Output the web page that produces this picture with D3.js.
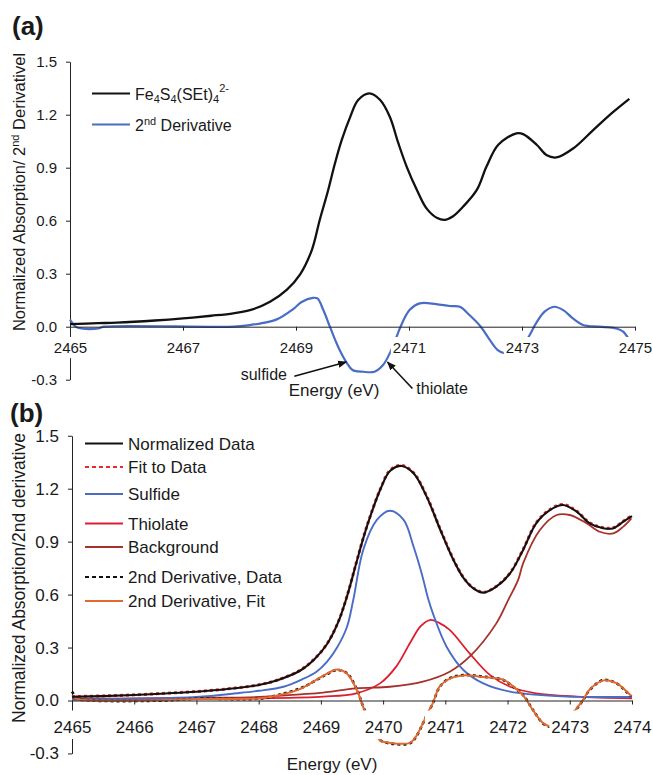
<!DOCTYPE html>
<html>
<head>
<meta charset="utf-8">
<script src="https://cdn.jsdelivr.net/npm/d3@7"></script>
<style>
  body { margin: 0; background: #fff; }
  svg text { font-family: "Liberation Sans", Arial, sans-serif; fill: #1a1a1a; }
</style>
</head>
<body>
<svg width="653" height="775"></svg>
<script>
// ---- data: [energy (eV), value] ----
const ticksXA = [2465, 2467, 2469, 2471, 2473, 2475];
const ticksXB = [2465, 2466, 2467, 2468, 2469, 2470, 2471, 2472, 2473, 2474];
const ticksY = [-0.3, 0, 0.3, 0.6, 0.9, 1.2, 1.5];

// panel (a)
const absorptionA = [
  [2465.0, 0.015], [2465.5, 0.02], [2465.83, 0.023], [2466.5, 0.035], [2467.0, 0.047],
  [2467.5, 0.062], [2467.89, 0.076], [2468.2, 0.095], [2468.54, 0.141], [2468.84, 0.21],
  [2469.07, 0.295], [2469.28, 0.434], [2469.42, 0.604], [2469.57, 0.774], [2469.69, 0.925],
  [2469.81, 1.057], [2469.96, 1.188], [2470.1, 1.283], [2470.3, 1.321], [2470.49, 1.283],
  [2470.66, 1.188], [2470.81, 1.04], [2470.96, 0.905], [2471.14, 0.774], [2471.31, 0.67],
  [2471.5, 0.615], [2471.64, 0.605], [2471.78, 0.625], [2471.96, 0.68], [2472.2, 0.774],
  [2472.37, 0.905], [2472.58, 1.03], [2472.9, 1.094], [2473.02, 1.09], [2473.26, 1.03],
  [2473.44, 0.97], [2473.61, 0.958], [2473.91, 1.01], [2474.26, 1.113], [2474.62, 1.217],
  [2474.9, 1.29]
];
const derivativeA = [
  [2465.0, 0.04], [2465.1, 0.0], [2465.2, -0.01], [2465.5, -0.01], [2465.6, 0.0],
  [2467.9, 0.0], [2468.2, 0.01], [2468.4, 0.02], [2468.65, 0.04], [2468.95, 0.1],
  [2469.1, 0.14], [2469.3, 0.163], [2469.38, 0.16], [2469.48, 0.097], [2469.6, 0.0],
  [2469.7, -0.08], [2469.77, -0.13], [2469.89, -0.2], [2470.0, -0.245], [2470.19, -0.255],
  [2470.39, -0.255], [2470.54, -0.217], [2470.66, -0.15], [2470.78, -0.057], [2470.85, 0.0],
  [2471.01, 0.094], [2471.19, 0.132], [2471.48, 0.128], [2471.72, 0.117], [2471.9, 0.113],
  [2472.07, 0.066], [2472.27, 0.0], [2472.43, -0.075], [2472.57, -0.132], [2472.69, -0.15],
  [2472.8, -0.15], [2472.95, -0.12], [2473.1, -0.066], [2473.25, 0.02], [2473.4, 0.085],
  [2473.57, 0.113], [2473.73, 0.094], [2473.9, 0.047], [2474.08, 0.01], [2474.37, 0.0],
  [2474.67, -0.01], [2474.79, -0.028], [2474.88, -0.066]
];

// panel (b)
const normalizedB = [
  [2465.0, 0.021], [2465.5, 0.025], [2466.0, 0.031], [2466.5, 0.04], [2467.0, 0.05],
  [2467.5, 0.065], [2468.0, 0.088], [2468.3, 0.115], [2468.67, 0.17], [2468.9, 0.235],
  [2469.1, 0.32], [2469.28, 0.445], [2469.42, 0.59], [2469.57, 0.78], [2469.69, 0.93],
  [2469.81, 1.06], [2469.96, 1.20], [2470.11, 1.30], [2470.3, 1.329], [2470.49, 1.287],
  [2470.7, 1.155], [2470.92, 0.966], [2471.13, 0.796], [2471.3, 0.69], [2471.45, 0.635],
  [2471.61, 0.611], [2471.82, 0.645], [2472.04, 0.72], [2472.25, 0.853], [2472.46, 1.004],
  [2472.68, 1.079], [2472.89, 1.108], [2473.11, 1.07], [2473.32, 1.004], [2473.54, 0.976],
  [2473.7, 0.976], [2473.86, 1.013], [2474.0, 1.045]
];
const fitB = [
  [2465.0, 0.022], [2465.5, 0.026], [2466.0, 0.032], [2466.5, 0.041], [2467.0, 0.051],
  [2467.5, 0.066], [2468.0, 0.089], [2468.3, 0.116], [2468.67, 0.172], [2468.9, 0.237],
  [2469.1, 0.322], [2469.28, 0.447], [2469.42, 0.592], [2469.57, 0.782], [2469.69, 0.932],
  [2469.81, 1.062], [2469.96, 1.202], [2470.11, 1.304], [2470.3, 1.332], [2470.49, 1.29],
  [2470.7, 1.158], [2470.92, 0.97], [2471.13, 0.8], [2471.3, 0.693], [2471.45, 0.638],
  [2471.61, 0.613], [2471.82, 0.647], [2472.04, 0.723], [2472.25, 0.856], [2472.46, 1.007],
  [2472.68, 1.082], [2472.89, 1.111], [2473.11, 1.073], [2473.32, 1.007], [2473.54, 0.979],
  [2473.7, 0.979], [2473.86, 1.016], [2474.0, 1.048]
];
const sulfideB = [
  [2465.0, 0.005], [2466.0, 0.01], [2467.0, 0.02], [2467.65, 0.041], [2468.0, 0.055],
  [2468.4, 0.078], [2468.7, 0.12], [2468.93, 0.163], [2469.1, 0.22], [2469.26, 0.3],
  [2469.42, 0.418], [2469.52, 0.569], [2469.68, 0.853], [2469.9, 1.023], [2470.11, 1.075],
  [2470.33, 1.023], [2470.49, 0.871], [2470.62, 0.72], [2470.73, 0.569], [2470.8, 0.494],
  [2471.02, 0.305], [2471.29, 0.173], [2471.61, 0.097], [2472.04, 0.05], [2472.79, 0.025],
  [2474.0, 0.02]
];
const thiolateB = [
  [2465.0, 0.005], [2467.0, 0.008], [2468.0, 0.012], [2469.04, 0.022], [2469.57, 0.041],
  [2469.95, 0.097], [2470.21, 0.192], [2470.43, 0.324], [2470.6, 0.42], [2470.75, 0.456],
  [2470.9, 0.44], [2471.07, 0.40], [2471.39, 0.267], [2471.72, 0.144], [2472.04, 0.078],
  [2472.46, 0.041], [2473.11, 0.022], [2474.0, 0.012]
];
const backgroundB = [
  [2465.0, 0.01], [2466.0, 0.012], [2467.0, 0.015], [2468.0, 0.02], [2468.67, 0.035],
  [2469.04, 0.045], [2469.57, 0.069], [2470.11, 0.078], [2470.64, 0.107], [2471.07, 0.163],
  [2471.39, 0.248], [2471.82, 0.437], [2472.01, 0.569], [2472.17, 0.683], [2472.25, 0.777],
  [2472.52, 0.966], [2472.79, 1.051], [2473.0, 1.051], [2473.27, 1.004], [2473.48, 0.956],
  [2473.7, 0.947], [2473.86, 0.985], [2473.99, 1.032]
];
const deriv2DataB = [
  [2465.0, 0.05], [2465.1, 0.01], [2465.3, 0.0], [2466.5, 0.0], [2467.0, 0.01],
  [2468.0, 0.01], [2468.3, 0.03], [2468.67, 0.069], [2468.93, 0.116], [2469.1, 0.15],
  [2469.26, 0.173], [2469.42, 0.154], [2469.58, 0.06], [2469.68, -0.035], [2469.74, -0.082],
  [2469.85, -0.17], [2469.95, -0.224], [2470.11, -0.243], [2470.43, -0.243], [2470.53, -0.205],
  [2470.64, -0.13], [2470.72, -0.07], [2470.8, -0.016], [2470.91, 0.078], [2471.07, 0.126],
  [2471.29, 0.144], [2471.61, 0.135], [2471.93, 0.116], [2472.09, 0.078], [2472.25, 0.031],
  [2472.41, -0.054], [2472.57, -0.13], [2472.68, -0.148], [2472.85, -0.14], [2473.05, -0.073],
  [2473.21, 0.0], [2473.32, 0.06], [2473.54, 0.116], [2473.75, 0.097], [2473.91, 0.05],
  [2473.99, 0.022]
];
const deriv2FitB = [
  [2465.0, 0.03], [2465.1, 0.008], [2465.3, 0.0], [2466.5, 0.003], [2467.0, 0.008],
  [2468.0, 0.012], [2468.3, 0.028], [2468.67, 0.066], [2468.93, 0.118], [2469.1, 0.152],
  [2469.26, 0.175], [2469.42, 0.152], [2469.58, 0.058], [2469.68, -0.037], [2469.74, -0.085],
  [2469.85, -0.172], [2469.95, -0.226], [2470.11, -0.24], [2470.43, -0.24], [2470.53, -0.203],
  [2470.64, -0.128], [2470.72, -0.068], [2470.8, -0.014], [2470.91, 0.08], [2471.07, 0.124],
  [2471.29, 0.142], [2471.61, 0.133], [2471.93, 0.118], [2472.09, 0.08], [2472.25, 0.029],
  [2472.41, -0.056], [2472.57, -0.128], [2472.68, -0.146], [2472.85, -0.138], [2473.05, -0.071],
  [2473.21, 0.002], [2473.32, 0.062], [2473.54, 0.114], [2473.75, 0.099], [2473.91, 0.052],
  [2473.99, 0.024]
];

const legendLabelsB = ["Normalized Data", "Fit to Data", "Sulfide", "Thiolate", "Background",
  "2nd Derivative, Data", "2nd Derivative, Fit"];

// ---- drawing ----
const svg = d3.select("svg");
const BLUE = "#4a6cc6", RED = "#dc1f30", DARKRED = "#a8302a", ORANGE = "#e4692e", FITRED = "#ea2a2a";

svg.append("defs").append("marker")
  .attr("id", "arrow")
  .attr("viewBox", "0 0 10 10")
  .attr("refX", 9).attr("refY", 5)
  .attr("markerWidth", 9).attr("markerHeight", 9)
  .attr("markerUnits", "userSpaceOnUse")
  .attr("orient", "auto")
  .append("path").attr("d", "M0,1 L10,5 L0,9 z").attr("fill", "#111");

const fmt = d => d.toFixed(1);

function yAxis(g, y, x0, size) {
  g.attr("transform", `translate(${x0},0)`)
    .call(d3.axisLeft(y).tickValues(ticksY).tickFormat(fmt).tickSize(4).tickSizeOuter(0).tickPadding(9))
    .call(g => g.select(".domain").attr("stroke", "#222"))
    .call(g => g.selectAll(".tick line").attr("stroke", "#222"))
    .call(g => g.selectAll(".tick text").attr("font-size", size).attr("fill", "#1a1a1a")
      .attr("font-family", '"Liberation Sans", Arial, sans-serif'));
}

// x axis drawn on top of the curves; labels sit on white boxes that hide what is under them
function xAxis(g, x, y0, ticks, size, textY, boxTop, boxBottom) {
  g.attr("transform", `translate(0,${y0})`)
    .call(d3.axisBottom(x).tickValues(ticks).tickFormat(d3.format("d")).tickSize(4).tickSizeOuter(0))
    .call(g => g.select(".domain").attr("stroke", "#222"))
    .call(g => g.selectAll(".tick line").attr("stroke", "#222"))
    .call(g => g.selectAll(".tick text").attr("font-size", size).attr("fill", "#1a1a1a")
      .attr("font-family", '"Liberation Sans", Arial, sans-serif')
      .attr("y", textY).attr("dy", 0));
  g.selectAll(".tick").each(function () {
    const bb = d3.select(this).select("text").node().getBBox();
    d3.select(this).insert("rect", "text")
      .attr("x", bb.x - 2).attr("width", bb.width + 4)
      .attr("y", boxTop).attr("height", boxBottom - boxTop)
      .attr("fill", "#fff");
  });
}

function curve(g, data, x, y, color, width, dash) {
  g.append("path")
    .datum(data)
    .attr("fill", "none")
    .attr("stroke", color)
    .attr("stroke-width", width)
    .attr("stroke-dasharray", dash || null)
    .attr("stroke-linejoin", "round")
    .attr("d", d3.line().x(d => x(d[0])).y(d => y(d[1])).curve(d3.curveCatmullRom.alpha(0.5)));
}

// ================= panel (a) =================
const xA = d3.scaleLinear().domain([2465, 2475]).range([70, 635]);
const yA = d3.scaleLinear().domain([-0.3, 1.5]).range([379.7, 61.7]);
const gA = svg.append("g");

gA.append("g").call(yAxis, yA, 70, 15);
curve(gA, derivativeA, xA, yA, BLUE, 2.2);
curve(gA, absorptionA, xA, yA, "#111", 2.3);
gA.append("g").call(xAxis, xA, yA(0), ticksXA, 15, 26.5, 10.3, 31.5);

svg.append("text").attr("x", 12).attr("y", 35)
  .attr("font-size", 26).attr("font-weight", "bold").text("(a)");

// y label with superscript
const labA = svg.append("text")
  .attr("transform", "translate(25,192) rotate(-90)")
  .attr("text-anchor", "middle").attr("font-size", 16.5);
labA.append("tspan").text("Normalized Absorption/ 2");
labA.append("tspan").attr("dy", -6).attr("font-size", 11).text("nd");
labA.append("tspan").attr("dy", 6).text(" Derivativel");

svg.append("text").attr("x", 334).attr("y", 396).attr("text-anchor", "middle")
  .attr("font-size", 17).text("Energy (eV)");

// legend (a)
const legA = svg.append("g");
legA.append("line").attr("x1", 92).attr("x2", 130).attr("y1", 93.5).attr("y2", 93.5)
  .attr("stroke", "#111").attr("stroke-width", 1.8);
legA.append("line").attr("x1", 92).attr("x2", 130).attr("y1", 124.5).attr("y2", 124.5)
  .attr("stroke", BLUE).attr("stroke-width", 1.8);
const feText = legA.append("text").attr("x", 135).attr("y", 99.5).attr("font-size", 16);
feText.append("tspan").text("Fe");
feText.append("tspan").attr("dy", 3).attr("font-size", 11).text("4");
feText.append("tspan").attr("dy", -3).text("S");
feText.append("tspan").attr("dy", 3).attr("font-size", 11).text("4");
feText.append("tspan").attr("dy", -3).text("(SEt)");
feText.append("tspan").attr("dy", 3).attr("font-size", 11).text("4");
feText.append("tspan").attr("dy", -11).attr("font-size", 11).text("2-");
const d2Text = legA.append("text").attr("x", 135).attr("y", 130.5).attr("font-size", 16);
d2Text.append("tspan").text("2");
d2Text.append("tspan").attr("dy", -6).attr("font-size", 11).text("nd");
d2Text.append("tspan").attr("dy", 6).text(" Derivative");

// annotations (a), placed in data units
const notes = [
  { text: "sulfide", tx: 2468.84, ty: -0.302, anchor: "end", from: [2468.97, -0.28], to: [2469.89, -0.2] },
  { text: "thiolate", tx: 2471.13, ty: -0.381, anchor: "start", from: [2471.06, -0.35], to: [2470.62, -0.2] }
];
notes.forEach(n => {
  svg.append("line")
    .attr("x1", xA(n.from[0])).attr("y1", yA(n.from[1]))
    .attr("x2", xA(n.to[0])).attr("y2", yA(n.to[1]))
    .attr("stroke", "#111").attr("stroke-width", 1.6)
    .attr("marker-end", "url(#arrow)");
  svg.append("text").attr("x", xA(n.tx)).attr("y", yA(n.ty))
    .attr("text-anchor", n.anchor).attr("font-size", 16).text(n.text);
});

// ================= panel (b) =================
const xB = d3.scaleLinear().domain([2465, 2474]).range([72, 632]);
const yB = d3.scaleLinear().domain([-0.3, 1.5]).range([753.45, 435.75]);
const gB = svg.append("g");

gB.append("g").call(yAxis, yB, 72, 17);

const seriesB = [
  { data: thiolateB, color: RED, width: 1.8 },
  { data: backgroundB, color: DARKRED, width: 1.8 },
  { data: sulfideB, color: BLUE, width: 1.9 },
  { data: deriv2DataB, color: "#111", width: 2.6, dash: "3,3" },
  { data: deriv2FitB, color: ORANGE, width: 2 },
  { data: fitB, color: FITRED, width: 3, dash: "3,3" },
  { data: normalizedB, color: "#111", width: 2.1 }
];
seriesB.forEach(s => curve(gB, s.data, xB, yB, s.color, s.width, s.dash));

gB.append("g").call(xAxis, xB, yB(0), ticksXB, 17, 32.5, 10, 38.5);

svg.append("text").attr("x", 10).attr("y", 422)
  .attr("font-size", 26).attr("font-weight", "bold").text("(b)");

svg.append("text")
  .attr("transform", "translate(25,578) rotate(-90)")
  .attr("text-anchor", "middle").attr("font-size", 17.5)
  .text("Normalized Absorption/2nd derivative");

svg.append("text").attr("x", 332).attr("y", 770).attr("text-anchor", "middle")
  .attr("font-size", 17).text("Energy (eV)");

// legend (b)
const legendStyleB = [
  { color: "#111" }, { color: FITRED, dash: "4,3" }, { color: BLUE }, { color: RED },
  { color: DARKRED }, { color: "#111", dash: "4,3" }, { color: ORANGE }
];
const legendRowsB = [443.5, 467, 494, 523.5, 547, 577, 601];
const legB = svg.append("g");
legendLabelsB.forEach((label, i) => {
  legB.append("line").attr("x1", 85).attr("x2", 123)
    .attr("y1", legendRowsB[i]).attr("y2", legendRowsB[i])
    .attr("stroke", legendStyleB[i].color).attr("stroke-width", 1.8)
    .attr("stroke-dasharray", legendStyleB[i].dash || null);
  legB.append("text").attr("x", 128).attr("y", legendRowsB[i] + 6)
    .attr("font-size", 17).text(label);
});
</script>
</body>
</html>
